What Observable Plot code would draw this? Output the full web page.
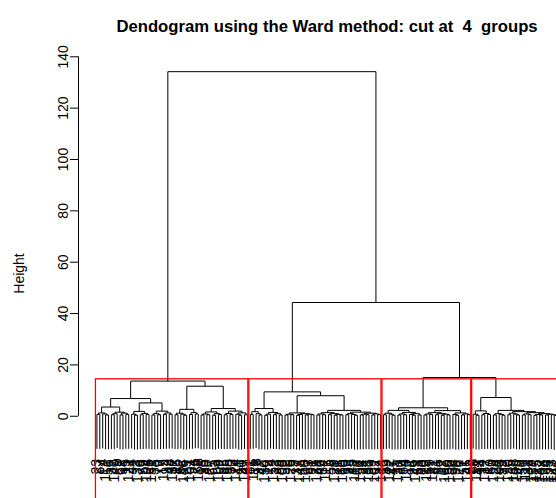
<!DOCTYPE html>
<html><head><meta charset="utf-8">
<script src="https://cdn.jsdelivr.net/npm/d3@7"></script>
<script src="https://cdn.jsdelivr.net/npm/@observablehq/plot@0.6"></script>
<style>
html,body{margin:0;padding:0;background:#fff;}
#chart{width:556px;height:498px;overflow:hidden;}
svg text{white-space:pre;}
</style>
</head><body><div id="chart"></div>
<script>
// ---- texts / settings ----
const title = "Dendogram using the Ward method: cut at  4  groups";
const yLabel = "Height";
const yTicks = [0, 20, 40, 60, 80, 100, 120, 140];
const k = 4;          // number of groups cut
const hang = 0.1;     // leaves hang (fraction of height range)

// ---- leaf groups: [mergeHeight, left, right], leaves are observation labels ----
const g1 = [1.3, [0.7, 23, 87], [0.9, 4, [0.5, 112, 56]]];
const g2 = [1.6, [1.0, [0.6, 31, 140], 9], [1.2, [0.5, 67, 98], [0.7, 15, 121]]];
const g3 = [1.9, [0.8, 44, [0.4, 2, 133]], [1.1, [0.6, 78, 59], [0.7, 104, 26]]];
const g4 = [2.0, [1.0, [0.5, 151, 38], [0.6, 70, 7]], [1.3, [0.7, 119, 92], [0.8, 48, 137]]];
const g5 = [2.7, [1.2, [0.6, 13, 85], [0.8, 62, [0.4, 146, 29]]], [1.4, [0.7, 101, 54], [0.9, 76, 158]]];
const g6 = [1.7, [0.9, [0.5, 18, 95], [0.6, 40, 127]], [1.0, [0.4, 65, 3], [0.7, 109, 82]]];
const g7 = [2.0, [1.1, [0.6, 35, 155], [0.7, 50, 73]], [1.3, [0.8, 124, [0.4, 11, 90]], [0.6, 143, 27]]];
const g8 = [1.8, [0.7, 61, 116], [1.0, 8, [0.5, 97, 42]]];
const g9 = [1.5, [0.8, [0.4, 130, 19], 74], [1.0, [0.6, 152, 33], [0.5, 88, 106]]];
const g10 = [1.3, [0.8, [0.5, 52, 6], [0.6, 125, 79]], [1.0, [0.7, [0.4, 37, 148], 14], [0.8, [0.5, 100, 63], [0.6, 91, 21]]]];
const g11 = [1.4, [0.9, [0.5, 139, 46], [0.6, 84, 117]], [1.0, [0.6, 5, 58], [0.7, [0.4, 128, 71], [0.5, 36, 160]]]];
const g12 = [1.6, [1.0, [0.6, 10, 93], [0.7, 45, [0.4, 113, 68]]], [1.2, [0.8, [0.5, 154, 24], [0.6, 81, 135]], [0.9, [0.5, 39, 102], [0.6, 57, 144]]]];
const g13 = [1.2, [0.6, 16, 89], [0.8, 122, [0.4, 47, 75]]];
const g14 = [1.5, [0.9, [0.5, 131, 30], [0.6, 64, 110]], [1.0, [0.7, 1, [0.4, 96, 149]], [0.5, 53, 83]]];
const g15 = [1.4, [0.9, [0.5, 20, 118], [0.7, 69, 141]], [1.0, [0.6, 41, 86], [0.8, [0.4, 12, 107], [0.5, 60, 156]]]];
const g16 = [1.3, [0.7, 34, [0.4, 99, 126]], [0.9, [0.5, 77, 51], [0.6, 145, 22]]];
const g17 = [2.1, [0.8, 66, [0.4, 114, 43]], [1.1, [0.6, 94, 132], [0.7, 17, 80]]];
const g18 = [1.0, [0.5, 153, 28], [0.7, 103, [0.4, 55, 72]]];
const g19 = [1.8, [1.2, [0.6, 120, 25], [0.8, 138, [0.5, 105, 49]]], [1.4, [0.9, [0.5, 150, 111], [0.6, 32, 129]], [1.0, [0.7, [0.4, 157, 115], [0.5, 142, 108]], [0.8, [0.5, 134, 159], [0.6, 123, [0.3, 147, 136]]]]]];

const tree = [134.2,
  [13.7, [6.9, [3.6, g1, g2], [5.2, g3, g4]], [11.7, g5, [3.0, g6, g7]]],
  [44.3,
    [9.5, [3.0, g8, g9], [8.0, g10, [2.3, g11, g12]]],
    [15.1, [3.3, [2.3, g13, g14], [2.2, g15, g16]], [7.3, g17, [2.3, g18, g19]]]]];

// ---- layout (R plot.hclust style) ----
const isLeaf = d => typeof d === "number";
const allHeights = [];
(function collect(nd){ if (!isLeaf(nd)) { allHeights.push(nd[0]); collect(nd[1]); collect(nd[2]); } })(tree);
const hangH = hang * (d3.max(allHeights) - d3.min(allHeights));
const segs = [], leaves = [];
let counter = 0;
function walk(node) {
  if (isLeaf(node)) { counter++; return {x: counter, leaf: true, label: node}; }
  const [h, a, b] = node;
  const A = walk(a), B = walk(b);
  for (const c of [A, B]) {
    const bottom = c.leaf ? h - hangH : c.h;
    segs.push({x1: c.x, y1: bottom, x2: c.x, y2: h});
    if (c.leaf) leaves.push({x: c.x, y: bottom, label: c.label});
  }
  segs.push({x1: A.x, y1: h, x2: B.x, y2: h});
  return {x: (A.x + B.x) / 2, h, leaf: false};
}
walk(tree);
const n = counter;

// ---- cut into k groups (rect.hclust) ----
let clusters = [tree];
let lastSplit = null;
while (clusters.length < k) {
  let best = -1;
  clusters.forEach((c, i) => { if (!isLeaf(c) && (best < 0 || c[0] > clusters[best][0])) best = i; });
  lastSplit = clusters[best][0];
  clusters.splice(best, 1, clusters[best][1], clusters[best][2]);
}
const nextH = d3.max(clusters.filter(c => !isLeaf(c)), c => c[0]);
const cutH = (lastSplit + nextH) / 2;
const countLeaves = c => isLeaf(c) ? 1 : countLeaves(c[1]) + countLeaves(c[2]);
const cum = [0]; clusters.forEach(c => cum.push(cum[cum.length - 1] + countLeaves(c)));

const xDomain = [1 - 0.04 * (n - 1), n + 0.04 * (n - 1)];
const yDomain = [-29.3, 140.5];
const rectBottom = -34;   // R's plot region bottom lies below the picture edge
const boxes = clusters.map((c, i) => ({x1: cum[i] + 0.66, x2: cum[i + 1] + 0.33, y1: rectBottom, y2: cutH}));

const font = "'Liberation Sans', Arial, Helvetica, sans-serif";
const chart = Plot.plot({
  width: 556, height: 498,
  marginLeft: 78, marginRight: -19, marginTop: 55, marginBottom: 7,
  style: {fontFamily: font, fontSize: "14px", background: "white", color: "black"},
  x: {domain: xDomain, axis: null},
  y: {domain: yDomain, axis: null},
  marks: [
    Plot.link(segs, {x1: "x1", y1: "y1", x2: "x2", y2: "y2", stroke: "black", strokeWidth: 1}),
    Plot.text(leaves, {x: "x", y: "y", text: d => String(d.label), rotate: -90, textAnchor: "end", dy: 10, fontSize: 14, fill: "black"}),
    Plot.rect(boxes, {x1: "x1", x2: "x2", y1: "y1", y2: "y2", fill: "none", stroke: "red", strokeWidth: 1.3}),
    Plot.ruleX([xDomain[0]], {y1: yTicks[0], y2: yTicks[yTicks.length - 1], stroke: "black"}),
    Plot.ruleY(yTicks, {y: d => d, x1: xDomain[0], x2: xDomain[0], insetLeft: -8, stroke: "black"}),
    Plot.text(yTicks, {y: d => d, text: d => String(d), frameAnchor: "left", textAnchor: "middle", rotate: -90, dx: -15, fontSize: 14, fill: "black"}),
    Plot.text([yLabel], {text: d => d, frameAnchor: "left", textAnchor: "middle", rotate: -90, dx: -59, fontSize: 14, fill: "black"}),
    Plot.text([title], {text: d => d, frameAnchor: "top", dy: -35, fontSize: 16.7, fontWeight: "bold", fill: "black"})
  ]
});
document.getElementById("chart").appendChild(chart);
</script>
</body></html>
